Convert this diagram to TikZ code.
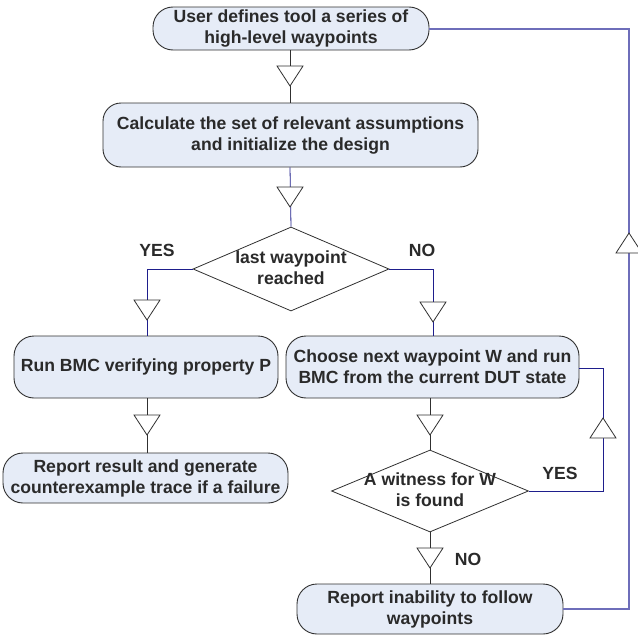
\documentclass[tikz,border=0pt]{standalone}
\usepackage{fontspec}
\setmainfont{Liberation Sans}
\usetikzlibrary{shapes.geometric}
\definecolor{boxfill}{HTML}{E6ECF7}
\definecolor{navy}{HTML}{1E1E8C}
\definecolor{lav}{HTML}{6E6EBA}
\definecolor{edge}{HTML}{303030}
\definecolor{txt}{HTML}{2A2A2A}
\tikzset{
  proc/.style={draw=edge, line width=0.9pt, fill=boxfill, rounded corners=20pt, align=center,
    inner sep=0pt, font=\fontsize{17.6}{21}\selectfont\bfseries, text=txt},
  dia/.style={draw=edge, line width=0.8pt, fill=white, diamond, inner sep=0pt},
  dlab/.style={align=center, font=\fontsize{17.6}{21}\selectfont\bfseries, text=txt},
  lab/.style={font=\fontsize{17.6}{20}\selectfont\bfseries, text=txt},
  conn/.style={draw=edge, line width=0.8pt},
  nconn/.style={draw=navy, line width=0.8pt},
  lconn/.style={draw=lav, line width=1.3pt},
  tri/.style={draw=edge, line width=0.8pt, fill=white, line join=miter},
}
\newcommand\downtri[2]{\draw[tri] (#1-13,#2-10) -- (#1+13,#2-10) -- (#1,#2+10) -- cycle;}
\newcommand\uptri[2]{\draw[tri] (#1-13,#2+10) -- (#1+13,#2+10) -- (#1,#2-10) -- cycle;}
\begin{document}
\begin{tikzpicture}[x=1pt,y=-1pt]
\useasboundingbox (0,0) rectangle (638,637);
% nodes
\node[proc, minimum width=276, minimum height=43] (start) at (291,28.5) {User defines tool a series of\\high-level waypoints};
\node[proc, minimum width=375, minimum height=64, rounded corners=18pt] (calc) at (290.5,135) {Calculate the set of relevant assumptions\\and initialize the design};
\node[dia, minimum width=196, minimum height=84] (last) at (291,269) {};
\node[dlab] (lastt) at (291,268) {last waypoint\\reached};
\node[proc, minimum width=264, minimum height=62] (run) at (146,367) {Run BMC verifying property P};
\node[proc, minimum width=285, minimum height=50] (rep) at (145.5,478) {Report result and generate\\counterexample trace if a failure};
\node[proc, minimum width=293, minimum height=62] (choose) at (432.5,367) {Choose next waypoint W and run\\BMC from the current DUT state};
\node[dia, minimum width=197, minimum height=82] (wit) at (430,491) {};
\node[dlab] (witt) at (430,490) {A witness for W\\is found};
\node[proc, minimum width=266, minimum height=50] (inab) at (430,609) {Report inability to follow\\waypoints};
% labels
\node[lab] (yes1) at (157,250) {YES};
\node[lab] (no1) at (422,250) {NO};
\node[lab] (yes2) at (560,473) {YES};
\node[lab] (no2) at (468,559) {NO};
% connectors
\draw[conn] (start.south -| 290,0) -- (calc.north -| 290,0);
\downtri{290}{76}
\draw[nconn] (calc.south -| 290,0) -- (last.north);
\downtri{290}{197}
\draw[nconn] (last.west) -| (run.north -| 147,0);
\downtri{147}{310}
\draw[nconn] (last.east) -| (choose.north -| 433,0);
\downtri{433}{312}
\draw[conn] (run.south -| 147,0) -- (rep.north -| 147,0);
\downtri{147}{425}
\draw[conn] (choose.south -| 430,0) -- (wit.north);
\downtri{430}{425}
\draw[conn] (wit.south) -- (inab.north);
\downtri{430}{558}
\draw[nconn] (wit.east) -| (603,368) -- (choose.east |- 0,368);
\uptri{603}{428}
\draw[lconn] (inab.east |- 0,609) -| (629,29) -- (start.east |- 0,29);
\uptri{629}{243}
\end{tikzpicture}
\end{document}
